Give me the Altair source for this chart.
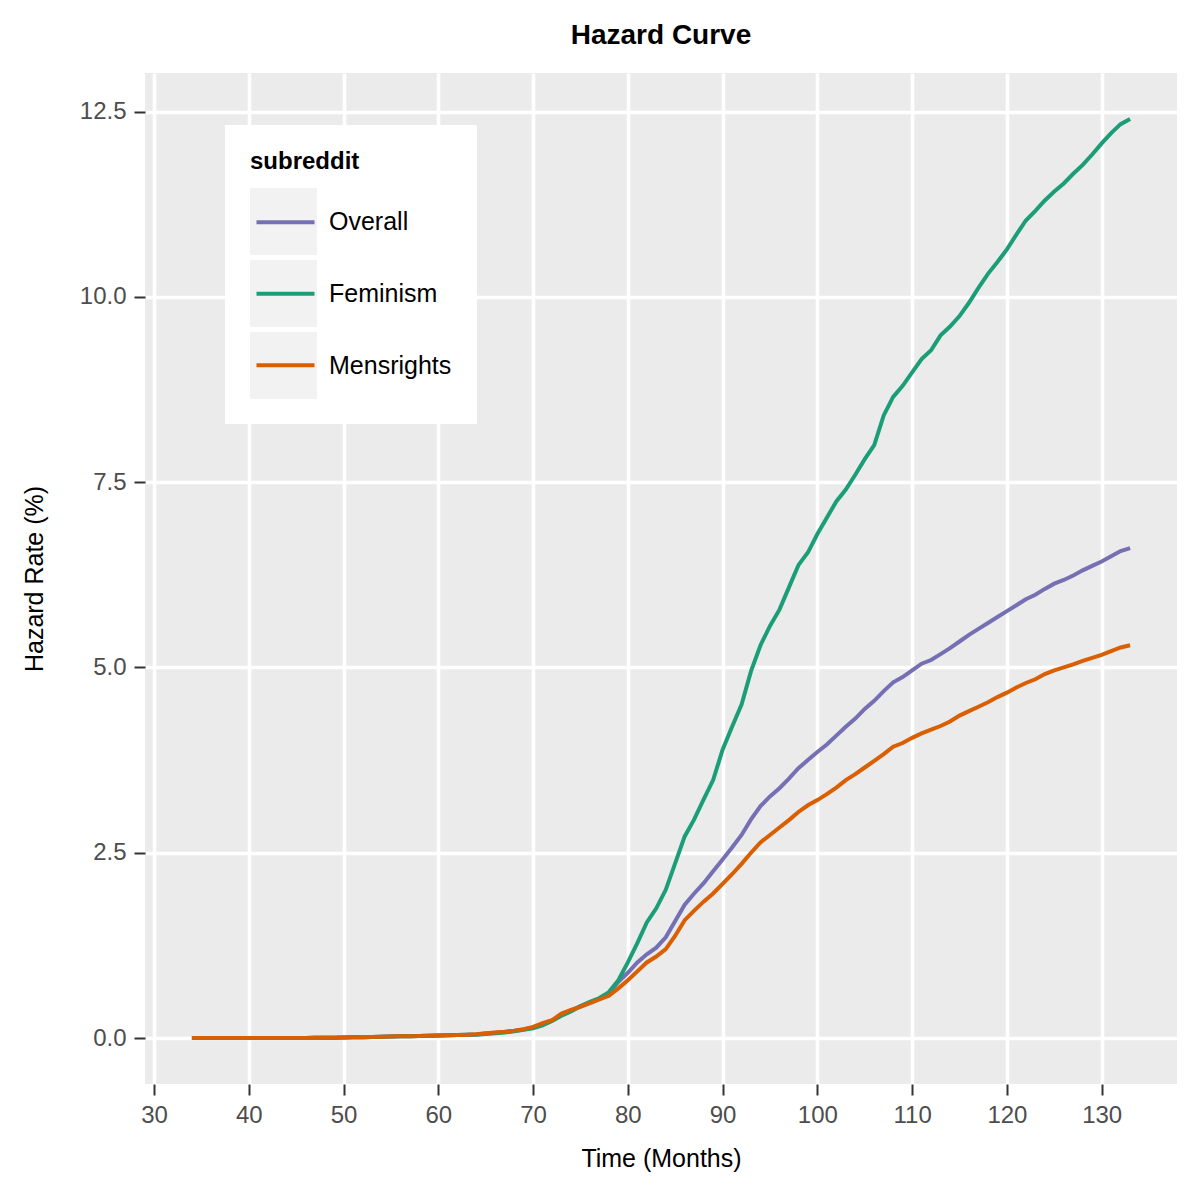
"""Hazard curve of three subreddits, drawn with Altair."""

import altair as alt
import pandas as pd

months = list(range(34, 134))
subreddits = ["Overall", "Feminism", "Mensrights"]
line_colors = ["#7570B3", "#1B9E77", "#D95F02"]

# months 34-63, shared by all three series
early = [0.0, 0.0, 0.0, 0.0, 0.0, 0.0, 0.0, 0.0, 0.0, 0.0,
         0.0, 0.001, 0.002, 0.003, 0.004, 0.005, 0.007, 0.01, 0.012, 0.015,
         0.018, 0.021, 0.023, 0.025, 0.027, 0.03, 0.034, 0.037, 0.04, 0.043]

# months 64-133
overall = early + [
    0.048, 0.06, 0.07, 0.08, 0.095, 0.115, 0.14, 0.185, 0.235, 0.31,
    0.37, 0.43, 0.48, 0.53, 0.60, 0.76, 0.88, 1.02, 1.13, 1.22,
    1.36, 1.58, 1.80, 1.95, 2.09, 2.25, 2.41, 2.57, 2.74, 2.95,
    3.13, 3.26, 3.37, 3.50, 3.64, 3.75, 3.86, 3.96, 4.08, 4.20,
    4.31, 4.44, 4.55, 4.68, 4.80, 4.87, 4.96, 5.05, 5.10, 5.18,
    5.26, 5.35, 5.44, 5.52, 5.60, 5.68, 5.76, 5.84, 5.92, 5.98,
    6.06, 6.13, 6.18, 6.24, 6.31, 6.37, 6.43, 6.50, 6.57, 6.61]

feminism = early + [
    0.045, 0.055, 0.065, 0.075, 0.09, 0.11, 0.13, 0.17, 0.23, 0.30,
    0.36, 0.43, 0.49, 0.54, 0.62, 0.78, 1.02, 1.28, 1.56, 1.75,
    2.00, 2.36, 2.72, 2.95, 3.22, 3.48, 3.89, 4.20, 4.50, 4.95,
    5.30, 5.56, 5.78, 6.08, 6.38, 6.55, 6.80, 7.02, 7.24, 7.40,
    7.60, 7.81, 8.00, 8.40, 8.65, 8.80, 8.98, 9.16, 9.28, 9.48,
    9.60, 9.74, 9.92, 10.12, 10.31, 10.47, 10.64, 10.84, 11.03, 11.16,
    11.30, 11.42, 11.53, 11.66, 11.78, 11.92, 12.07, 12.21, 12.33, 12.40]

mensrights = early + [
    0.05, 0.065, 0.075, 0.085, 0.10, 0.12, 0.15, 0.20, 0.24, 0.33,
    0.38, 0.42, 0.47, 0.52, 0.57, 0.67, 0.78, 0.90, 1.02, 1.10,
    1.20, 1.38, 1.59, 1.72, 1.84, 1.95, 2.08, 2.21, 2.35, 2.50,
    2.64, 2.74, 2.84, 2.94, 3.05, 3.14, 3.21, 3.29, 3.38, 3.48,
    3.56, 3.65, 3.74, 3.83, 3.93, 3.98, 4.05, 4.11, 4.16, 4.21,
    4.27, 4.35, 4.41, 4.47, 4.53, 4.60, 4.66, 4.73, 4.79, 4.84,
    4.91, 4.96, 5.00, 5.04, 5.09, 5.13, 5.17, 5.22, 5.27, 5.30]

x_ticks = [30, 40, 50, 60, 70, 80, 90, 100, 110, 120, 130]
y_ticks = [0, 2.5, 5, 7.5, 10, 12.5]

FONT = "Liberation Sans"
LINE_WIDTH = 4

hazard = pd.concat([
    pd.DataFrame({"month": months, "hazard": values, "subreddit": name})
    for name, values in zip(subreddits, [overall, feminism, mensrights])
])

x_enc = alt.X("month:Q", title="Time (Months)",
              scale=alt.Scale(domain=[29.05, 137.95], nice=False, zero=False),
              axis=alt.Axis(values=x_ticks, format="d"))
y_enc = alt.Y("hazard:Q", title="Hazard Rate (%)",
              scale=alt.Scale(domain=[-0.62, 13.02], nice=False, zero=False),
              axis=alt.Axis(values=y_ticks, format=".1f"))

base = alt.Chart(hazard)

# legend box: white panel, title, grey key backgrounds and labels.
# Its own key names keep Vega-Lite from merging it with the line legend.
key_names = ["k" + name for name in subreddits]
key_boxes = base.transform_filter("false").transform_calculate(
    key="'k' + datum.subreddit").mark_point(
    shape="square", filled=True, opacity=1).encode(
    x=x_enc, y=y_enc,
    color=alt.Color("key:N",
                    scale=alt.Scale(domain=key_names, range=["#F2F2F2"] * 3),
                    legend=alt.Legend(
                        title="subreddit", orient="none", legendX=80, legendY=52,
                        fillColor="white", padding=25, symbolType="square",
                        symbolSize=4489, symbolStrokeWidth=0, symbolOpacity=1,
                        rowPadding=5, labelOffset=12, titlePadding=14,
                        labelExpr="slice(datum.label, 1)",
                        titleFont=FONT, titleFontSize=24, titleFontWeight="bold",
                        titleColor="black", labelFont=FONT, labelFontSize=25,
                        labelColor="black"))
)

# only the coloured key lines, laid over the grey key backgrounds
line_legend = alt.Legend(
    title=None, orient="none", legendX=84.5, legendY=93.2,
    padding=25, symbolType="stroke", symbolSize=3364, symbolStrokeWidth=LINE_WIDTH,
    rowPadding=27.5, labelExpr="''", labelFontSize=25)

lines = [
    base.transform_filter(alt.datum.subreddit == name).mark_line(strokeWidth=LINE_WIDTH).encode(
        x=x_enc, y=y_enc,
        stroke=alt.Stroke("subreddit:N",
                          scale=alt.Scale(domain=subreddits, range=line_colors),
                          legend=line_legend))
    for name in subreddits
]

chart = alt.layer(key_boxes, *lines).properties(
    width=1032, height=1011,
    title=alt.TitleParams("Hazard Curve", font=FONT, fontSize=28, fontWeight="bold",
                          anchor="middle", color="black", offset=1, baseline="alphabetic"),
    autosize=alt.AutoSizeParams(type="none"),
    padding={"left": 137, "top": 65, "right": 15, "bottom": 108},
).configure_view(
    fill="#EBEBEB", strokeWidth=0
).configure_axis(
    domain=False, grid=True, gridColor="white", gridWidth=3.6,
    tickColor="#333333", tickWidth=2, tickSize=11,
    labelFont=FONT, labelFontSize=24, labelColor="#4D4D4D", labelPadding=8,
    titleFont=FONT, titleFontSize=25, titleColor="black", titleFontWeight="normal",
).configure_axisX(
    titlePadding=19
).configure_axisY(
    titlePadding=32
)

chart.save("out.html", embed_options={"renderer": "svg", "actions": False})
